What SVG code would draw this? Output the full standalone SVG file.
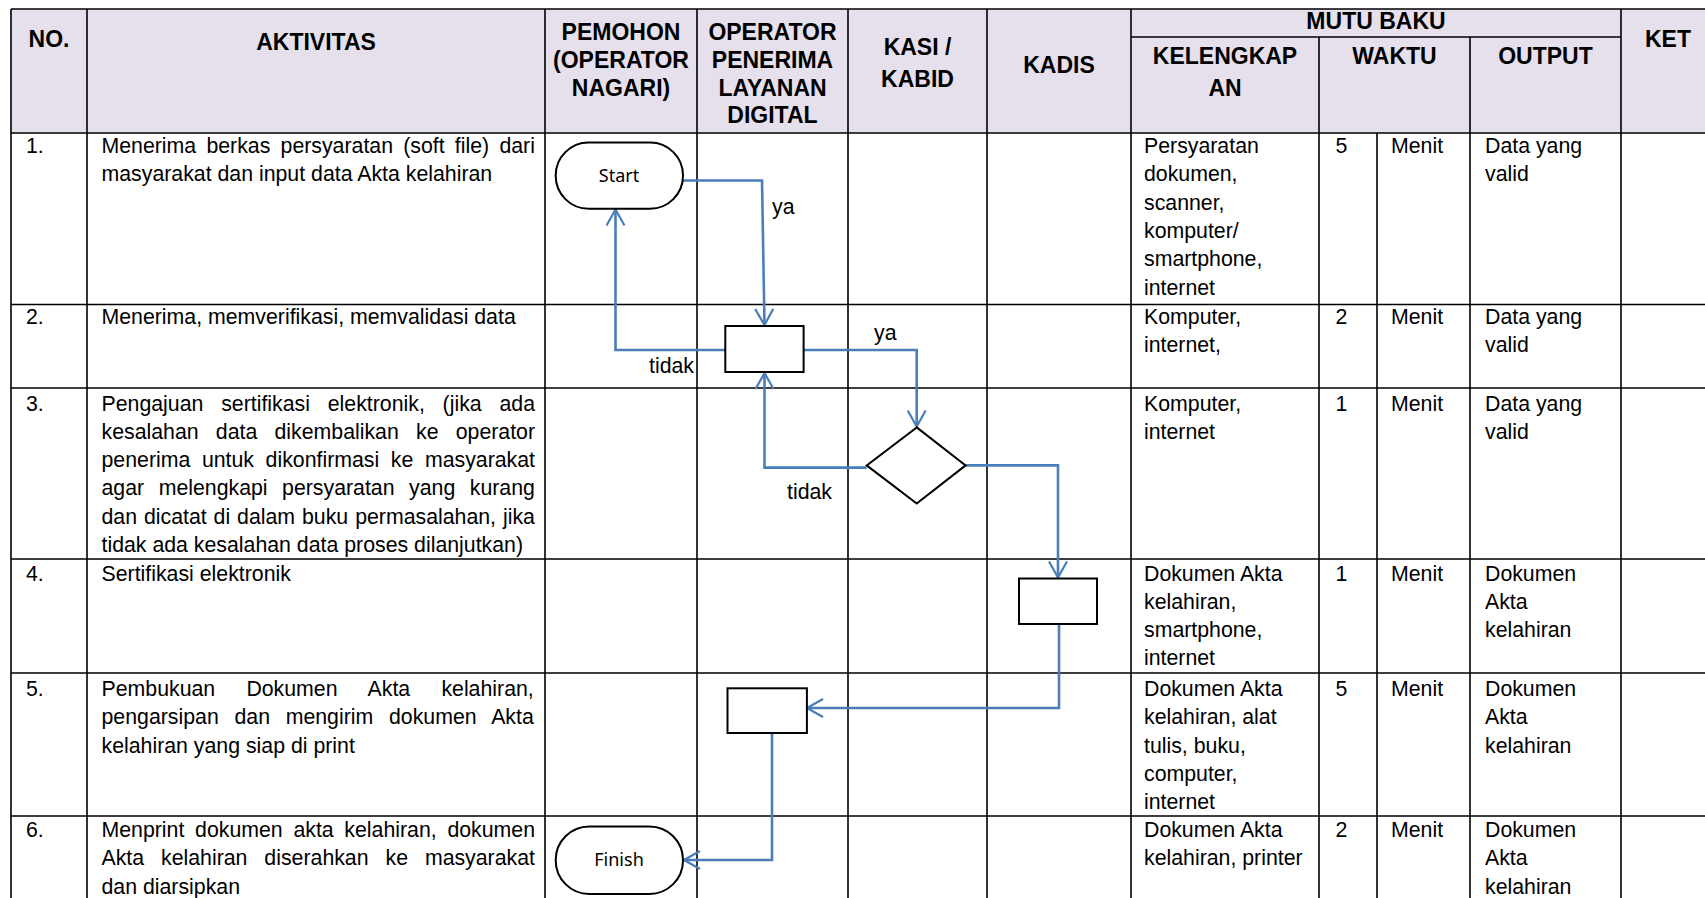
<svg xmlns="http://www.w3.org/2000/svg" width="1705" height="898" viewBox="0 0 1705 898">
<defs>
<style>
.grid{stroke:#000;stroke-width:1.6;fill:none}
.h{font-family:"Liberation Sans",Arial,sans-serif;font-weight:bold;font-size:23px;fill:#000;text-anchor:middle}
.t{font-family:"Liberation Sans",Arial,sans-serif;font-size:21.3px;fill:#000}
.lbl{font-family:"Liberation Sans",Arial,sans-serif;font-size:21.3px;fill:#000}
.shape{fill:#fff;stroke:#000;stroke-width:2}
.term{font-family:"Noto Sans",sans-serif;font-size:18px;fill:#000;text-anchor:middle}
.con{fill:none;stroke:#4A7EBB;stroke-width:2.6}
</style>
<marker id="arr" viewBox="0 0 18 20" refX="17" refY="10" markerWidth="18" markerHeight="20" markerUnits="userSpaceOnUse" orient="auto">
<path d="M1,1 L17,10 L1,19" fill="none" stroke="#4A7EBB" stroke-width="2.2"/>
</marker>
</defs>
<rect width="1705" height="898" fill="#fff"/>
<g id="table">
<rect x="11" y="9" width="1694" height="124" fill="#E5E0EC"/>
<path class="grid" d="M11,9H1705 M1131,37H1621 M11,133H1705 M11,304.5H1705 M11,388H1705 M11,559H1705 M11,673H1705 M11,816H1705
M11,9V898 M87,9V898 M545,9V898 M697,9V898 M848,9V898 M987,9V898 M1131,9V898 M1319,37V898 M1377,133V898 M1470,37V898 M1621,9V898"/>
<text class="h" x="49" y="47">NO.</text>
<text class="h" x="316" y="49.5">AKTIVITAS</text>
<text class="h" x="621" y="40">PEMOHON</text>
<text class="h" x="621" y="68">(OPERATOR</text>
<text class="h" x="621" y="95.5">NAGARI)</text>
<text class="h" x="772.5" y="40">OPERATOR</text>
<text class="h" x="772.5" y="68">PENERIMA</text>
<text class="h" x="772.5" y="95.5">LAYANAN</text>
<text class="h" x="772.5" y="123">DIGITAL</text>
<text class="h" x="917.5" y="55">KASI /</text>
<text class="h" x="917.5" y="86.5">KABID</text>
<text class="h" x="1059" y="72.5">KADIS</text>
<text class="h" x="1376" y="29">MUTU BAKU</text>
<text class="h" x="1225" y="63.5">KELENGKAP</text>
<text class="h" x="1225" y="95.5">AN</text>
<text class="h" x="1394.5" y="63.5">WAKTU</text>
<text class="h" x="1545.5" y="63.5">OUTPUT</text>
<text class="h" x="1668" y="47">KET</text>

<text class="t" x="26" y="153">1.</text>
<text class="t" x="101.5" y="153" word-spacing="4.3">Menerima berkas persyaratan (soft file) dari</text>
<text class="t" x="101.5" y="181.3">masyarakat dan input data Akta kelahiran</text>
<text class="t" x="1144" y="153">Persyaratan</text>
<text class="t" x="1144" y="181.3">dokumen,</text>
<text class="t" x="1144" y="209.6">scanner,</text>
<text class="t" x="1144" y="237.9">komputer/</text>
<text class="t" x="1144" y="266.2">smartphone,</text>
<text class="t" x="1144" y="294.5">internet</text>
<text class="t" x="1335.5" y="153">5</text>
<text class="t" x="1391" y="153">Menit</text>
<text class="t" x="1485" y="153">Data yang</text>
<text class="t" x="1485" y="181.3">valid</text>

<text class="t" x="26" y="324">2.</text>
<text class="t" x="101.5" y="324">Menerima, memverifikasi, memvalidasi data</text>
<text class="t" x="1144" y="324">Komputer,</text>
<text class="t" x="1144" y="352.3">internet,</text>
<text class="t" x="1335.5" y="324">2</text>
<text class="t" x="1391" y="324">Menit</text>
<text class="t" x="1485" y="324">Data yang</text>
<text class="t" x="1485" y="352.3">valid</text>

<text class="t" x="26" y="410.5">3.</text>
<text class="t" x="101.5" y="410.5" word-spacing="11.9">Pengajuan sertifikasi elektronik, (jika ada</text>
<text class="t" x="101.5" y="438.8" word-spacing="11.3">kesalahan data dikembalikan ke operator</text>
<text class="t" x="101.5" y="467.1" word-spacing="5.7">penerima untuk dikonfirmasi ke masyarakat</text>
<text class="t" x="101.5" y="495.4" word-spacing="8.6">agar melengkapi persyaratan yang kurang</text>
<text class="t" x="101.5" y="523.7" word-spacing="1.0">dan dicatat di dalam buku permasalahan, jika</text>
<text class="t" x="101.5" y="552">tidak ada kesalahan data proses dilanjutkan)</text>
<text class="t" x="1144" y="410.5">Komputer,</text>
<text class="t" x="1144" y="438.8">internet</text>
<text class="t" x="1335.5" y="410.5">1</text>
<text class="t" x="1391" y="410.5">Menit</text>
<text class="t" x="1485" y="410.5">Data yang</text>
<text class="t" x="1485" y="438.8">valid</text>

<text class="t" x="26" y="580.5">4.</text>
<text class="t" x="101.5" y="580.5">Sertifikasi elektronik</text>
<text class="t" x="1144" y="580.5">Dokumen Akta</text>
<text class="t" x="1144" y="608.8">kelahiran,</text>
<text class="t" x="1144" y="637.1">smartphone,</text>
<text class="t" x="1144" y="665.4">internet</text>
<text class="t" x="1335.5" y="580.5">1</text>
<text class="t" x="1391" y="580.5">Menit</text>
<text class="t" x="1485" y="580.5">Dokumen</text>
<text class="t" x="1485" y="608.8">Akta</text>
<text class="t" x="1485" y="637.1">kelahiran</text>

<text class="t" x="26" y="696">5.</text>
<text class="t" x="101.5" y="696" word-spacing="25.3">Pembukuan Dokumen Akta kelahiran,</text>
<text class="t" x="101.5" y="724.3" word-spacing="9.8">pengarsipan dan mengirim dokumen Akta</text>
<text class="t" x="101.5" y="752.6">kelahiran yang siap di print</text>
<text class="t" x="1144" y="696">Dokumen Akta</text>
<text class="t" x="1144" y="724.3">kelahiran, alat</text>
<text class="t" x="1144" y="752.6">tulis, buku,</text>
<text class="t" x="1144" y="780.9">computer,</text>
<text class="t" x="1144" y="809.2">internet</text>
<text class="t" x="1335.5" y="696">5</text>
<text class="t" x="1391" y="696">Menit</text>
<text class="t" x="1485" y="696">Dokumen</text>
<text class="t" x="1485" y="724.3">Akta</text>
<text class="t" x="1485" y="752.6">kelahiran</text>

<text class="t" x="26" y="837">6.</text>
<text class="t" x="101.5" y="837" word-spacing="4.8">Menprint dokumen akta kelahiran, dokumen</text>
<text class="t" x="101.5" y="865.3" word-spacing="11.0">Akta kelahiran diserahkan ke masyarakat</text>
<text class="t" x="101.5" y="893.6">dan diarsipkan</text>
<text class="t" x="1144" y="837">Dokumen Akta</text>
<text class="t" x="1144" y="865.3">kelahiran, printer</text>
<text class="t" x="1335.5" y="837">2</text>
<text class="t" x="1391" y="837">Menit</text>
<text class="t" x="1485" y="837">Dokumen</text>
<text class="t" x="1485" y="865.3">Akta</text>
<text class="t" x="1485" y="893.6">kelahiran</text>
</g>

<g id="connectors">
<path class="con" d="M683,180.5 H762 L764.5,325" marker-end="url(#arr)"/>
<path class="con" d="M725.3,350 H615.5 V209.5" marker-end="url(#arr)"/>
<path class="con" d="M803.6,350 H916.7 V426.5" marker-end="url(#arr)"/>
<path class="con" d="M866.7,467.6 H764.5 V373" marker-end="url(#arr)"/>
<path class="con" d="M965.6,465.4 H1058 V577.5" marker-end="url(#arr)"/>
<path class="con" d="M1059,624 V708 H807" marker-end="url(#arr)"/>
<path class="con" d="M772,733 V860 H684" marker-end="url(#arr)"/>
<text class="lbl" x="772" y="214">ya</text>
<text class="lbl" x="874" y="340">ya</text>
<text class="lbl" x="649" y="373">tidak</text>
<text class="lbl" x="787" y="499">tidak</text>
</g>

<g id="start">
<rect class="shape" x="555.7" y="142.5" width="127.3" height="66.3" rx="33" ry="33"/>
<text class="term" x="619" y="182">Start</text>
</g>
<g id="verify">
<rect class="shape" x="725.3" y="326" width="78.3" height="46"/>
</g>
<g id="decision">
<polygon class="shape" points="916.7,427.4 965.6,465.4 916.7,503.5 866.7,465.4"/>
</g>
<g id="sertifikasi">
<rect class="shape" x="1019" y="578.5" width="78" height="45.5"/>
</g>
<g id="pembukuan">
<rect class="shape" x="727.5" y="688.3" width="79.4" height="44.7"/>
</g>
<g id="finish">
<rect class="shape" x="555.7" y="826.4" width="127.3" height="67.5" rx="33.5" ry="33.5"/>
<text class="term" x="619" y="866">Finish</text>
</g>
</svg>
